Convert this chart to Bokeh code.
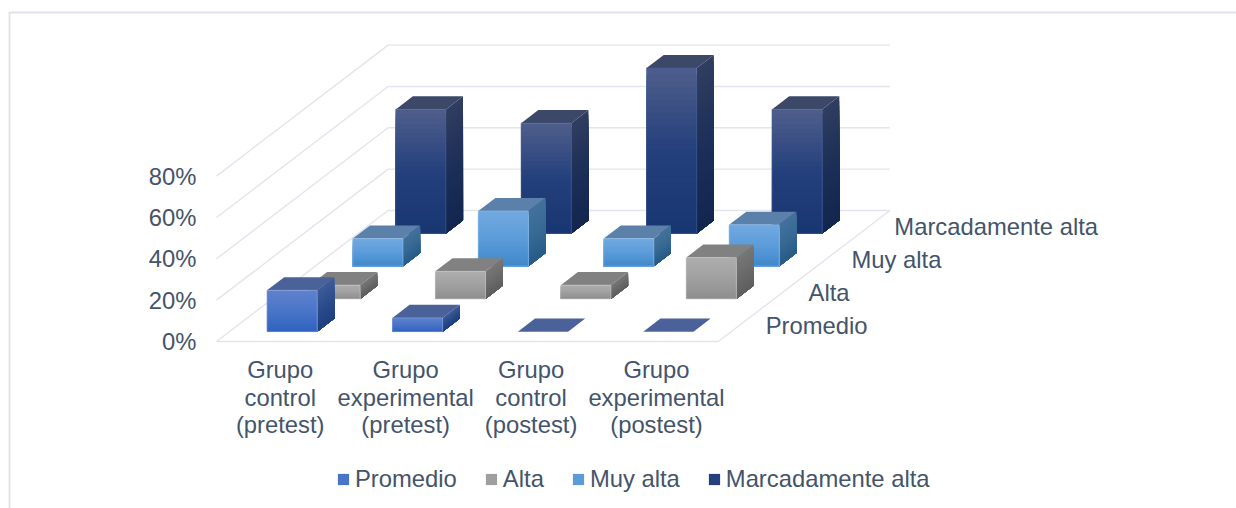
from bokeh.plotting import figure
from bokeh.embed import file_html
from bokeh.resources import INLINE
from bokeh.models import (ColumnDataSource, Range1d, LinearAxis, FixedTicker, Legend, LegendItem)
from bokeh.core.properties import value

categories = ["Grupo\ncontrol\n(pretest)", "Grupo\nexperimental\n(pretest)",
              "Grupo\ncontrol\n(postest)", "Grupo\nexperimental\n(postest)"]
series_names = ["Promedio", "Alta", "Muy alta", "Marcadamente alta"]
promedio = [20.0, 6.67, 0.0, 0.0]
alta = [6.67, 13.33, 6.67, 20.0]
muy_alta = [13.33, 26.67, 13.33, 20.0]
marcadamente_alta = [60.0, 53.33, 80.0, 60.0]
value_ticks = [0, 20, 40, 60, 80]
value_labels = ["0%", "20%", "40%", "60%", "80%"]

series_values = [promedio, alta, muy_alta, marcadamente_alta]

# colour stops, top to bottom: front face, side face, top face
FRONT = [["#5f82cc", "#4a75c8", "#2f62bf"],
         ["#aeaeae", "#a0a0a0", "#8e8e8e"],
         ["#72a9e0", "#5c9cda", "#3f88ca"],
         ["#4f5e8c", "#24407c", "#183672"]]
SIDE = [["#3f5c98", "#2c4c8c", "#1e3f80"],
        ["#777777", "#6c6c6c", "#5e5e5e"],
        ["#43719c", "#386a94", "#285a88"],
        ["#303e60", "#1c2f58", "#12264f"]]
TOP = ["#4a6299", "#818181", "#5b80aa", "#3c4868"]
EDGE = ["#8aa3dc", "#c4c4c4", "#8fc0ec", "#4a5f94"]

TEXT = "#44546a"
GRID = "#e2e5ed"
FONT = "Liberation Sans"
SIZE = "23.8px"

# layout of the pseudo-3D box in page pixels
PX0, PY0 = 216.0, 341.0      # front-left floor corner
CAT_PX = 125.43              # one category wide
PCT_PX = 2.0675              # one percent tall
DEPTH_PX = (42.9, 32.75)     # one series deep
W, H = 1236, 508
BAR_LO, BAR_HI = 0.3, 0.7
DX = DEPTH_PX[0] / CAT_PX
DY = DEPTH_PX[1] / PCT_PX


def page_x(px):
    return (px - PX0) / CAT_PX


def page_y(py):
    return (PY0 - py) / PCT_PX


def proj(cat, val, depth):
    return cat + depth * DX, val + depth * DY


def hex2rgb(c):
    return tuple(int(c[i:i + 2], 16) for i in (1, 3, 5))


def ramp(stops, t):
    pos = t * (len(stops) - 1)
    i = min(int(pos), len(stops) - 2)
    f = pos - i
    a, b = hex2rgb(stops[i]), hex2rgb(stops[i + 1])
    return "#%02x%02x%02x" % tuple(round(a[k] + (b[k] - a[k]) * f) for k in range(3))


p = figure(width=W, height=H, output_backend="svg", toolbar_location=None,
           x_range=Range1d(page_x(0), page_x(W)),
           y_range=Range1d(page_y(H), page_y(0)),
           min_border=0, outline_line_color=None, x_axis_type=None, y_axis_type=None)
p.xgrid.visible = False
p.ygrid.visible = False

# frame of the chart area
p.line([page_x(9), page_x(9), page_x(W)], [page_y(H), page_y(12), page_y(12)],
       line_color="#e0e4ea", line_width=2)

# walls and floor
n_cat = len(categories)
n_ser = len(series_names)
gx, gy = [], []
for v in value_ticks:
    a = proj(0, v, 0)
    b = proj(0, v, n_ser)
    c = proj(n_cat, v, n_ser)
    gx.append([a[0], b[0], c[0]])
    gy.append([a[1], b[1], c[1]])
a, b, c = proj(0, 0, 0), proj(n_cat, 0, 0), proj(n_cat, 0, n_ser)
gx.append([a[0], b[0], c[0]])
gy.append([a[1], b[1], c[1]])
p.multi_line(gx, gy, line_color=GRID, line_width=1.4)

# bars, back series first; each band reaches the bar's foot and is painted over by the next
BANDS = 26
legend_items = []
for s in reversed(range(n_ser)):
    xs, ys, cols = [], [], []
    swatch = 0
    d0, d1 = s + BAR_LO, s + BAR_HI
    for c_i, val in enumerate(series_values[s]):
        c0, c1 = c_i + BAR_LO, c_i + BAR_HI
        # side face
        if val > 0:
            for k in range(BANDS):
                t0, t1 = k / BANDS, (k + 1) / BANDS
                v_hi = val * (1 - t0)
                pts = [proj(c1, v_hi, d0), proj(c1, v_hi, d1), proj(c1, 0, d1), proj(c1, 0, d0)]
                xs.append([q[0] for q in pts])
                ys.append([q[1] for q in pts])
                cols.append(ramp(SIDE[s], (t0 + t1) / 2))
        # top face
        pts = [proj(c0, val, d0), proj(c1, val, d0), proj(c1, val, d1), proj(c0, val, d1)]
        xs.append([q[0] for q in pts])
        ys.append([q[1] for q in pts])
        cols.append(TOP[s])
        # front face
        if val > 0:
            for k in range(BANDS):
                t0, t1 = k / BANDS, (k + 1) / BANDS
                v_hi = val * (1 - t0)
                pts = [proj(c0, v_hi, d0), proj(c1, v_hi, d0), proj(c1, 0, d0), proj(c0, 0, d0)]
                xs.append([q[0] for q in pts])
                ys.append([q[1] for q in pts])
                cols.append(ramp(FRONT[s], (t0 + t1) / 2))
                if c_i == 0 and k == BANDS // 2:
                    swatch = len(cols) - 1
    src = ColumnDataSource(dict(xs=xs, ys=ys, color=cols))
    r = p.patches("xs", "ys", source=src, fill_color="color", line_color=None)
    # pale rim of the front faces
    ex, ey = [], []
    for c_i, val in enumerate(series_values[s]):
        if val > 0:
            c0, c1 = c_i + BAR_LO, c_i + BAR_HI
            pts = [proj(c0, 0, d0), proj(c0, val, d0), proj(c1, val, d0), proj(c1, 0, d0), proj(c0, 0, d0)]
            ex.append([q[0] for q in pts])
            ey.append([q[1] for q in pts])
    if ex:
        p.multi_line(ex, ey, line_color=EDGE[s], line_width=1, line_alpha=0.6)
    legend_items.insert(0, LegendItem(label=value(series_names[s]), renderers=[r], index=swatch))

# series labels along the right-hand floor edge
lab = [proj(n_cat, 0, i + 0.5) for i in range(n_ser)]
p.text([q[0] for q in lab], [q[1] for q in lab], text=series_names, x_offset=26,
       text_font=value(FONT), text_font_size=value(SIZE), text_color=TEXT,
       text_align="left", text_baseline="middle")

# value axis
ya = LinearAxis(ticker=FixedTicker(ticks=value_ticks),
                major_label_overrides=dict(zip(value_ticks, value_labels)),
                fixed_location=page_x(202), axis_line_color=None,
                major_tick_line_color=None, minor_tick_line_color=None, major_label_standoff=0,
                major_label_text_font=FONT, major_label_text_font_size=SIZE,
                major_label_text_color=TEXT)
p.add_layout(ya, "left")

# category labels, one line at a time for the reference's tighter leading
LEADING = 27.5
lx, ly, lt, lo = [], [], [], []
for i, name in enumerate(categories):
    for j, line in enumerate(name.split("\n")):
        lx.append(i + 0.5)
        ly.append(page_y(369))
        lt.append(line)
        lo.append(j * LEADING)
p.text(lx, ly, text=lt, x_offset=1, y_offset=lo,
       text_font=value(FONT), text_font_size=value(SIZE), text_color=TEXT,
       text_align="center", text_baseline="middle")

legend = Legend(items=legend_items, orientation="horizontal", location=(336, H - 494 + 1),
                background_fill_alpha=0, border_line_color=None, padding=0, margin=0,
                glyph_width=14, glyph_height=14, label_standoff=5, spacing=27,
                label_text_font=FONT, label_text_font_size=SIZE, label_text_color=TEXT)
p.add_layout(legend)

open("out.html", "w").write(file_html(p, INLINE))
